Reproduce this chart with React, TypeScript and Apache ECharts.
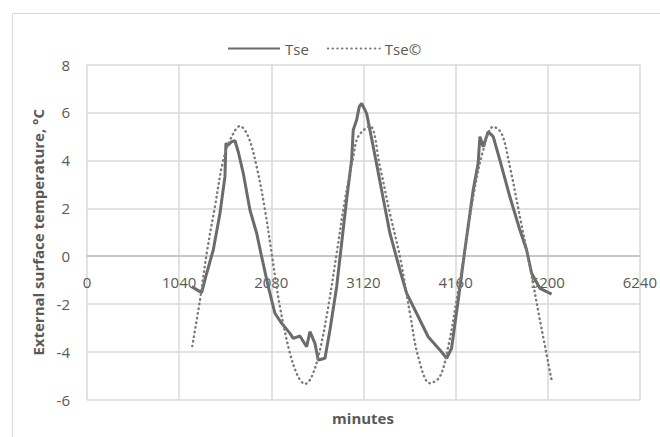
import React, { useEffect, useRef } from "react";
import * as echarts from "echarts";

const xTicks = [0, 1040, 2080, 3120, 4160, 5200, 6240];
const yTicks = [-6, -4, -2, 0, 2, 4, 6, 8];

const tseMinutes = [1181, 1294, 1351, 1425, 1501, 1557, 1568, 1594, 1633, 1670, 1707, 1764, 1839, 1915, 1971, 2046, 2121, 2197, 2291, 2328, 2403, 2479, 2516, 2573, 2610, 2686, 2742, 2818, 2874, 2930, 2987, 3005, 3043, 3073, 3100, 3156, 3231, 3325, 3419, 3532, 3608, 3720, 3851, 3983, 4059, 4115, 4190, 4265, 4359, 4415, 4435, 4472, 4528, 4585, 4660, 4773, 4886, 4962, 5018, 5112, 5244];
const tseValues = [-1.27, -1.52, -0.71, 0.26, 1.79, 3.32, 4.71, 4.64, 4.78, 4.82, 4.36, 3.46, 1.93, 0.96, -0.02, -1.27, -2.38, -2.8, -3.22, -3.43, -3.33, -3.78, -3.15, -3.64, -4.33, -4.26, -3.08, -1.27, 0.54, 2.35, 4.02, 5.27, 5.68, 6.24, 6.38, 5.96, 4.57, 2.76, 0.96, -0.58, -1.55, -2.38, -3.36, -3.91, -4.26, -3.84, -1.83, 0.26, 2.76, 3.88, 4.99, 4.57, 5.2, 4.99, 4.01, 2.48, 1.09, 0.26, -0.71, -1.34, -1.58];

const tseCMinutes = [1188, 1275, 1351, 1444, 1538, 1633, 1726, 1820, 1915, 2009, 2084, 2178, 2291, 2384, 2460, 2536, 2629, 2723, 2818, 2911, 3005, 3061, 3193, 3306, 3419, 3532, 3645, 3738, 3870, 3983, 4077, 4172, 4265, 4359, 4472, 4585, 4679, 4773, 4886, 4999, 5112, 5244];
const tseCValues = [-3.75, -1.83, 0.12, 2.07, 4.01, 4.99, 5.43, 4.99, 3.74, 1.93, 0.12, -2.11, -4.05, -5.03, -5.33, -5.03, -3.91, -2.11, 0.12, 2.35, 4.15, 4.99, 5.43, 3.74, 1.79, -0.02, -2.38, -4.19, -5.3, -5.03, -3.78, -1.83, 0.26, 2.48, 4.43, 5.4, 5.13, 3.74, 1.65, -0.44, -2.66, -5.17];

const FONT = "'Open Sans', sans-serif";
const GRAY = "#595959";

export default function App() {
  const ref = useRef<HTMLDivElement>(null);
  useEffect(() => {
    if (!ref.current) return;
    const chart = echarts.init(ref.current, null, { renderer: "svg" });
    chart.setOption({
      animation: false,
      textStyle: { fontFamily: FONT },
      graphic: [
        {
          type: "rect",
          z: -10,
          silent: true,
          shape: { x: 12.5, y: 13.5, width: 700, height: 500 },
          style: { fill: "none", stroke: "#d9d9d9", lineWidth: 1 },
        },
        {
          type: "text",
          x: 363,
          y: 418,
          silent: true,
          style: {
            text: "minutes",
            fontFamily: FONT,
            fontSize: 15,
            fontWeight: "bold",
            fill: GRAY,
            textAlign: "center",
            textVerticalAlign: "middle",
          },
        },
      ],
      legend: {
        top: 36,
        left: 222,
        itemWidth: 52,
        itemHeight: 14,
        itemGap: 18,
        itemStyle: { opacity: 0 },
        textStyle: { fontFamily: FONT, fontSize: 15, color: GRAY },
        data: ["Tse", "Tse©"],
      },
      grid: { left: 87, right: 20, top: 64.5, bottom: 37 },
      xAxis: {
        type: "value",
        min: xTicks[0],
        max: xTicks[xTicks.length - 1],
        interval: 1040,
        axisLine: { show: true, onZero: true, onZeroAxisIndex: 0, lineStyle: { color: "#bfbfbf", width: 1.5 } },
        axisTick: { show: false },
        axisLabel: { margin: -126, fontSize: 15, color: GRAY, fontFamily: FONT, formatter: (v: number) => String(v) },
        splitLine: { show: true, lineStyle: { color: "#d9d9d9", width: 1.5 } },
      },
      yAxis: {
        type: "value",
        min: yTicks[0],
        max: yTicks[yTicks.length - 1],
        interval: 2,
        axisLine: { show: false, onZero: false },
        axisTick: { show: false },
        axisLabel: { margin: 17, fontSize: 15, color: GRAY, fontFamily: FONT },
        splitLine: { show: true, lineStyle: { color: "#d9d9d9", width: 1.5 } },
        name: "External surface temperature, °C",
        nameLocation: "middle",
        nameGap: 39,
        nameTextStyle: { fontSize: 15, fontWeight: "bold", color: GRAY, fontFamily: FONT },
      },
      series: [
        {
          name: "Tse",
          type: "line",
          showSymbol: false,
          symbol: "none",
          lineStyle: { color: "#6b6b6b", width: 3 },
          itemStyle: { color: "#6b6b6b" },
          data: tseMinutes.map((m, i) => [m, tseValues[i]]),
        },
        {
          name: "Tse©",
          type: "line",
          showSymbol: false,
          symbol: "none",
          smooth: 0.35,
          lineStyle: { color: "#7a7a7a", width: 2.4, type: [0.5, 4.2], cap: "round" },
          itemStyle: { color: "#7a7a7a" },
          data: tseCMinutes.map((m, i) => [m, tseCValues[i]]),
        },
      ],
    });
    return () => chart.dispose();
  }, []);
  return (
    <div
      ref={ref}
      style={{ position: "fixed", left: 0, top: 0, width: 660, height: 437, background: "#fff" }}
    />
  );
}
